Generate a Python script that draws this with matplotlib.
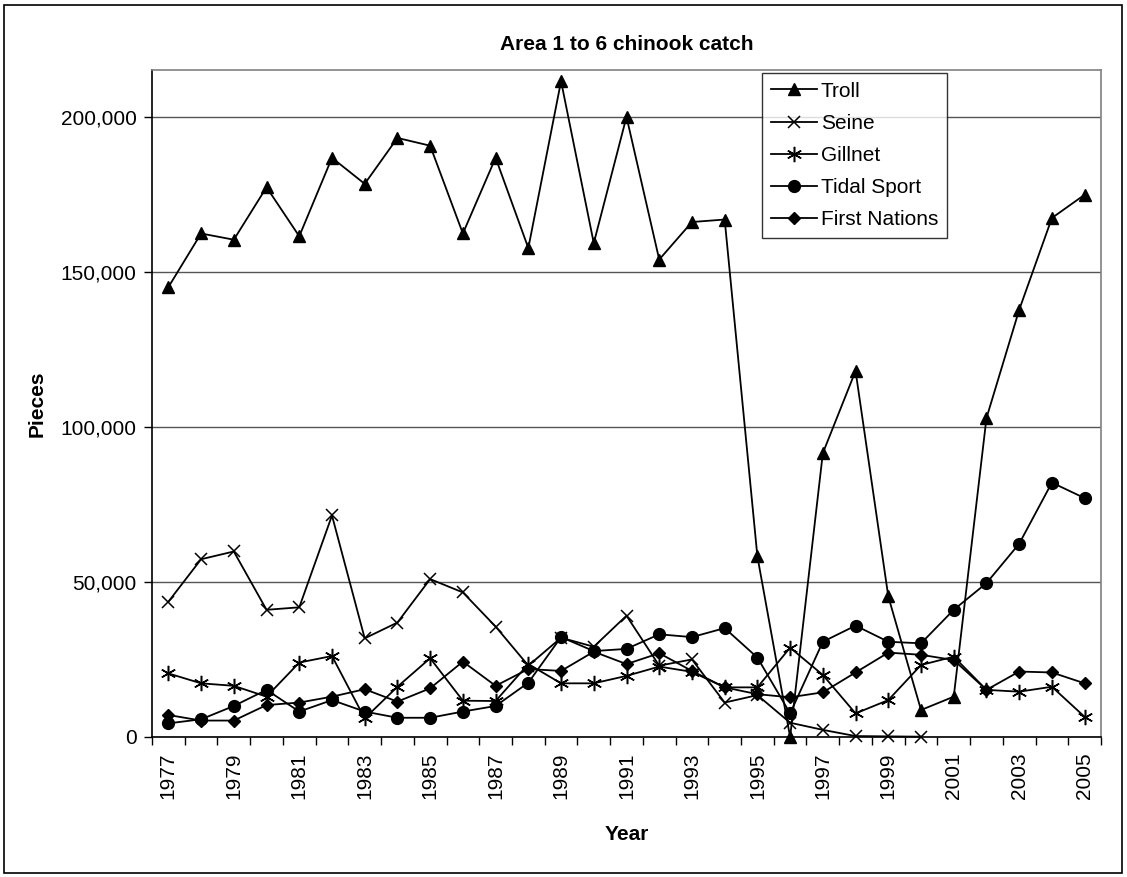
import numpy as np
import matplotlib
matplotlib.use("Agg")
import matplotlib.pyplot as plt
from matplotlib.patches import Rectangle
from matplotlib.ticker import FuncFormatter, FixedLocator

plt.rcParams['font.family'] = ['Liberation Sans', 'DejaVu Sans']

years = list(range(1977, 2006))
troll = [145000, 162300, 160300, 177200, 161400, 186700, 178300, 193100, 190600, 162300,
         186700, 157600, 211400, 159200, 199900, 153900, 166000, 166800, 58200, 0,
         91500, 118000, 45300, 8700, 13000, 102800, 137700, 167300, 174800]
seine = [43600, 57300, 59800, 41000, 41800, 71400, 31800, 36900, 50900, 46600,
         35600, 23000, 32000, 29100, 39100, 23000, 25000, 11100, 13500, 4600,
         2300, 300, 200, 100, np.nan, np.nan, np.nan, np.nan, np.nan]
gillnet = [20500, 17300, 16500, 13000, 24000, 26100, 6000, 16200, 25400, 11700,
           11600, 23500, 17300, 17300, 19700, 22700, 21000, 16000, 16000, 28800,
           20000, 7600, 11900, 23200, 25900, 15200, 14600, 16200, 6500]
tidal_sport = [4400, 5700, 10000, 15200, 8200, 11900, 8200, 6200, 6200, 8200,
               10000, 17500, 32200, 27700, 28400, 33100, 32200, 35100, 25600, 7600,
               30700, 35900, 30700, 30200, 41000, 49600, 62300, 82000, 77000]
first_nations = [7100, 5300, 5300, 10300, 11100, 13000, 15400, 11400, 15700, 24300,
                 16500, 21900, 21300, 27500, 23500, 27000, 21300, 16000, 13800, 12800,
                 14400, 20800, 27200, 26500, 24800, 15200, 21100, 20800, 17300]

W, H = 1127, 877
FS = 15
fig = plt.figure(figsize=(W / 100, H / 100), dpi=100)
ax = fig.add_axes([152 / W, 1 - 737 / H, (1101 - 152) / W, (737 - 70) / H])

x = np.arange(len(years))
asterisk = (6, 2, 0)
series = [
    ("Troll", troll, dict(marker='^', ms=9, mfc='black')),
    ("Seine", seine, dict(marker='x', ms=9, mew=1.1)),
    ("Gillnet", gillnet, dict(marker=asterisk, ms=11, mew=1.1)),
    ("Tidal Sport", tidal_sport, dict(marker='o', ms=8.5, mfc='black')),
    ("First Nations", first_nations, dict(marker='D', ms=6.5, mfc='black')),
]
for name, vals, st in series:
    ax.plot(x, vals, color='black', lw=1.3, mec='black', label=name, clip_on=False, **st)

ax.set_xlim(-0.5, len(years) - 0.5)
ax.set_ylim(0, 215000)
ax.set_yticks([0, 50000, 100000, 150000, 200000])
ax.yaxis.set_major_formatter(FuncFormatter(lambda v, p: f"{int(v):,}"))
ax.grid(axis='y', color='#555555', lw=1)
ax.set_axisbelow(True)

# category boundaries ticks, labels every other year
ax.xaxis.set_major_locator(FixedLocator(np.arange(-0.5, len(years), 1.0)))
ax.xaxis.set_major_formatter(FuncFormatter(lambda v, p: ""))
ax.xaxis.set_minor_locator(FixedLocator(x[::2]))
ax.set_xticklabels([str(y) for y in years[::2]], minor=True, rotation=90)
ax.tick_params(axis='x', which='major', direction='out', length=6, width=1, color='black')
ax.tick_params(axis='x', which='minor', length=0, pad=11, labelsize=FS)
ax.tick_params(axis='y', direction='out', length=6, width=1, labelsize=FS, pad=5)

for s in ['left', 'bottom']:
    ax.spines[s].set_color('black')
    ax.spines[s].set_linewidth(1.2)
for s in ['top', 'right']:
    ax.spines[s].set_color('#808080')
    ax.spines[s].set_linewidth(1.2)

ax.set_ylabel("Pieces", fontsize=FS, fontweight='bold', labelpad=10)
ax.set_xlabel("Year", fontsize=FS, fontweight='bold', labelpad=19)
fig.text((152 + 1101) / 2 / W, 1 - 45 / H, "Area 1 to 6 chinook catch",
         ha='center', va='center', fontsize=FS, fontweight='bold')

leg = ax.legend(loc='upper left', bbox_to_anchor=(762 / W, 1 - 73 / H),
                bbox_transform=fig.transFigure, fontsize=FS, frameon=True,
                fancybox=False, shadow=False, borderaxespad=0, handlelength=2.2,
                labelspacing=0.63, borderpad=0.42, handletextpad=0.2)
leg.get_frame().set_edgecolor('black')
leg.get_frame().set_linewidth(1.0)

fig.patches.append(Rectangle((4 / W, 4 / H), (W - 9) / W, (H - 9) / H,
                             transform=fig.transFigure, fill=False,
                             edgecolor='black', lw=1.2))

fig.savefig("out.png", dpi=100)
